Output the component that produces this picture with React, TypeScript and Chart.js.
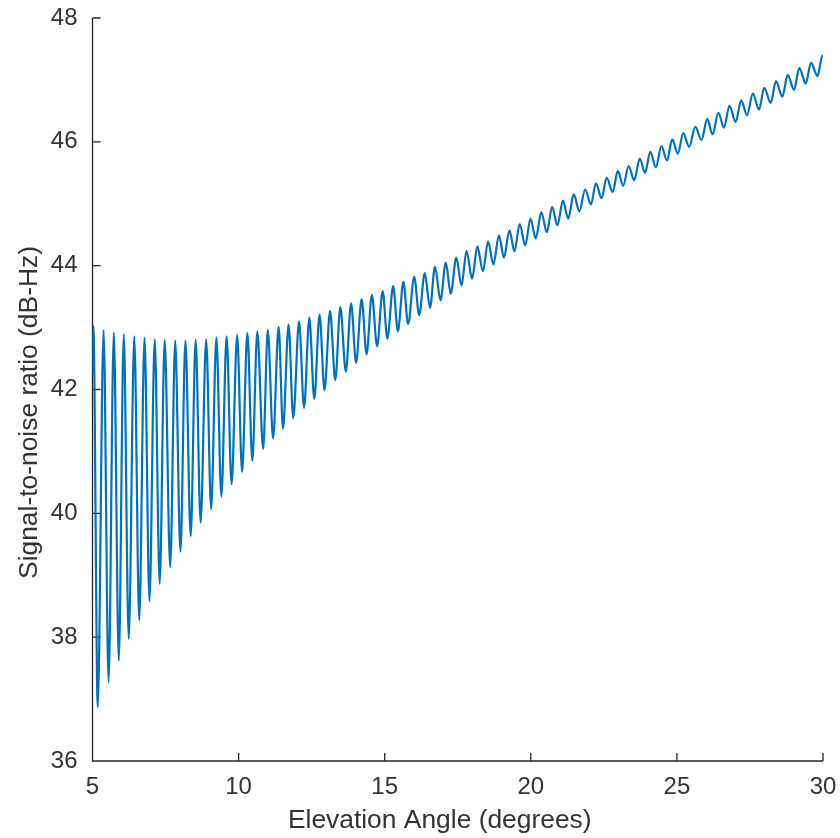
import React, { useEffect, useRef } from "react";
import { Chart, registerables } from "chart.js";

Chart.register(...registerables);

// Elevation angle (degrees) and SNR (dB-Hz) at the
// curve's local maxima and minima, plus its first and last points.
const startDeg = 5.0;
const startSnr = 42.25;
const endDeg = 30.0;
const endSnr = 47.37;

const peakDeg = [
  5.03, 5.38, 5.73, 6.07, 6.43, 6.78, 7.13, 7.47, 7.83, 8.18,
  8.53, 8.89, 9.24, 9.59, 9.95, 10.3, 10.64, 11.0, 11.37, 11.71,
  12.07, 12.42, 12.77, 13.13, 13.48, 13.85, 14.21, 14.56, 14.93, 15.29,
  15.64, 16.01, 16.37, 16.72, 17.09, 17.45, 17.8, 18.17, 18.54, 18.91,
  19.27, 19.62, 19.99, 20.36, 20.73, 21.1, 21.47, 21.86, 22.23, 22.6,
  22.98, 23.35, 23.73, 24.09, 24.47, 24.84, 25.22, 25.63, 26.04, 26.42,
  26.8, 27.2, 27.6, 27.99, 28.39, 28.79, 29.19, 29.59, 29.98,
];
const peakSnr = [
  43.02, 42.96, 42.92, 42.89, 42.86, 42.84, 42.81, 42.8, 42.79, 42.79,
  42.8, 42.81, 42.84, 42.86, 42.88, 42.91, 42.94, 42.96, 43.01, 43.05,
  43.1, 43.16, 43.21, 43.27, 43.33, 43.39, 43.46, 43.53, 43.59, 43.67,
  43.74, 43.82, 43.88, 43.98, 44.05, 44.13, 44.24, 44.31, 44.39, 44.49,
  44.57, 44.67, 44.76, 44.86, 44.95, 45.05, 45.15, 45.23, 45.33, 45.42,
  45.53, 45.61, 45.73, 45.84, 45.93, 46.04, 46.14, 46.24, 46.37, 46.47,
  46.58, 46.67, 46.78, 46.87, 46.98, 47.08, 47.19, 47.28, 47.39,
];
const troughDeg = [
  5.18, 5.55, 5.9, 6.24, 6.6, 6.95, 7.3, 7.66, 8.01, 8.36,
  8.7, 9.06, 9.41, 9.76, 10.12, 10.47, 10.84, 11.18, 11.52, 11.87,
  12.24, 12.59, 12.94, 13.31, 13.67, 14.02, 14.38, 14.74, 15.09, 15.45,
  15.8, 16.18, 16.55, 16.91, 17.26, 17.63, 17.99, 18.36, 18.72, 19.08,
  19.44, 19.81, 20.17, 20.55, 20.91, 21.28, 21.66, 22.06, 22.42, 22.8,
  23.16, 23.54, 23.91, 24.28, 24.66, 25.03, 25.42, 25.84, 26.22, 26.61,
  27.01, 27.4, 27.81, 28.21, 28.61, 29.01, 29.41, 29.81,
];
const troughSnr = [
  36.87, 37.27, 37.62, 37.97, 38.27, 38.58, 38.86, 39.13, 39.38, 39.63,
  39.85, 40.07, 40.27, 40.47, 40.67, 40.85, 41.04, 41.21, 41.37, 41.54,
  41.7, 41.85, 41.99, 42.15, 42.29, 42.43, 42.57, 42.7, 42.82, 42.94,
  43.06, 43.2, 43.32, 43.44, 43.55, 43.68, 43.79, 43.91, 44.02, 44.13,
  44.23, 44.33, 44.44, 44.54, 44.65, 44.76, 44.88, 44.99, 45.09, 45.19,
  45.29, 45.38, 45.5, 45.59, 45.7, 45.81, 45.92, 46.03, 46.12, 46.23,
  46.32, 46.43, 46.52, 46.63, 46.73, 46.84, 46.94, 47.06,
];

const xTickValues = [5, 10, 15, 20, 25, 30];
const yTickValues = [36, 38, 40, 42, 44, 46, 48];

const xTitle = "Elevation Angle (degrees)";
const yTitle = "Signal-to-noise ratio (dB-Hz)";

const LINE_COLOR = "#0072BD";
const AXIS_COLOR = "#262626";
const TEXT_COLOR = "#333333";
const FONT = "'Liberation Sans', Arial, Helvetica, sans-serif";
const TITLE_SIZE = 26.4;

function buildPoints() {
  const pts: { x: number; y: number }[] = [{ x: startDeg, y: startSnr }];
  peakDeg.forEach((d, i) => pts.push({ x: d, y: peakSnr[i] }));
  troughDeg.forEach((d, i) => pts.push({ x: d, y: troughSnr[i] }));
  pts.push({ x: endDeg, y: endSnr });
  pts.sort((a, b) => a.x - b.x);
  return pts;
}

const axesPlugin = {
  id: "matlabAxes",
  beforeDatasetsDraw(chart: any) {
    const { ctx, chartArea, scales } = chart;
    const { left, right, top, bottom } = chartArea;
    const xs = scales.x;
    const ys = scales.y;
    ctx.save();
    ctx.strokeStyle = AXIS_COLOR;
    ctx.lineWidth = 1.3;
    ctx.beginPath();
    ctx.moveTo(left, top);
    ctx.lineTo(left, bottom);
    ctx.lineTo(right, bottom);
    const tl = 8;
    xTickValues.forEach((v) => {
      const px = xs.getPixelForValue(v);
      ctx.moveTo(px, bottom);
      ctx.lineTo(px, bottom - tl);
    });
    yTickValues.forEach((v) => {
      const py = ys.getPixelForValue(v);
      ctx.moveTo(left, py);
      ctx.lineTo(left + tl, py);
    });
    ctx.stroke();

    // axis titles
    ctx.fillStyle = TEXT_COLOR;
    ctx.font = `${TITLE_SIZE}px ${FONT}`;
    ctx.textAlign = "center";
    ctx.textBaseline = "middle";
    ctx.fillText(xTitle, (left + right) / 2 - 18, chart.height - 17);
    ctx.save();
    ctx.translate(30, (top + bottom) / 2 + 23);
    ctx.rotate(-Math.PI / 2);
    ctx.fillText(yTitle, 0, 0);
    ctx.restore();
    ctx.restore();
  },
};

export default function App() {
  const canvasRef = useRef<HTMLCanvasElement | null>(null);

  useEffect(() => {
    const canvas = canvasRef.current;
    if (!canvas) return;
    const chart = new Chart(canvas, {
      type: "line",
      data: {
        datasets: [
          {
            data: buildPoints(),
            borderColor: LINE_COLOR,
            borderWidth: 2.2,
            pointRadius: 0,
            fill: false,
            cubicInterpolationMode: "monotone",
          },
        ],
      },
      plugins: [axesPlugin],
      options: {
        animation: false,
        responsive: false,
        maintainAspectRatio: false,
        devicePixelRatio: 1,
        layout: { padding: { left: 0, top: 18, right: 17, bottom: 0 } },
        plugins: {
          legend: { display: false },
          tooltip: { enabled: false },
        },
        scales: {
          x: {
            type: "linear",
            min: 5,
            max: 30,
            afterBuildTicks: (s: any) => {
              s.ticks = xTickValues.map((v) => ({ value: v }));
            },
            afterFit: (s: any) => {
              s.height = 77;
              s.paddingLeft = 0;
              s.paddingRight = 0;
              s.paddingTop = 0;
              s.paddingBottom = 0;
            },
            grid: { display: false, drawTicks: false },
            border: { display: false },
            ticks: {
              padding: 12,
              color: TEXT_COLOR,
              font: { family: FONT, size: 24 },
              maxRotation: 0,
              autoSkip: false,
            },
            title: { display: false },
          },
          y: {
            type: "linear",
            min: 36,
            max: 48,
            afterBuildTicks: (s: any) => {
              s.ticks = yTickValues.map((v) => ({ value: v }));
            },
            afterFit: (s: any) => {
              s.width = 92.5;
              s.paddingLeft = 0;
              s.paddingRight = 0;
              s.paddingTop = 0;
              s.paddingBottom = 0;
            },
            grid: { display: false, drawTicks: false },
            border: { display: false },
            ticks: {
              padding: 15,
              color: TEXT_COLOR,
              font: { family: FONT, size: 24 },
              autoSkip: false,
            },
            title: { display: false },
          },
        },
      },
    } as any);
    return () => chart.destroy();
  }, []);

  return (
    <div
      style={{
        position: "fixed",
        left: 0,
        top: 0,
        width: 840,
        height: 838,
        background: "#fff",
      }}
    >
      <canvas ref={canvasRef} width={840} height={838} style={{ display: "block" }} />
    </div>
  );
}
